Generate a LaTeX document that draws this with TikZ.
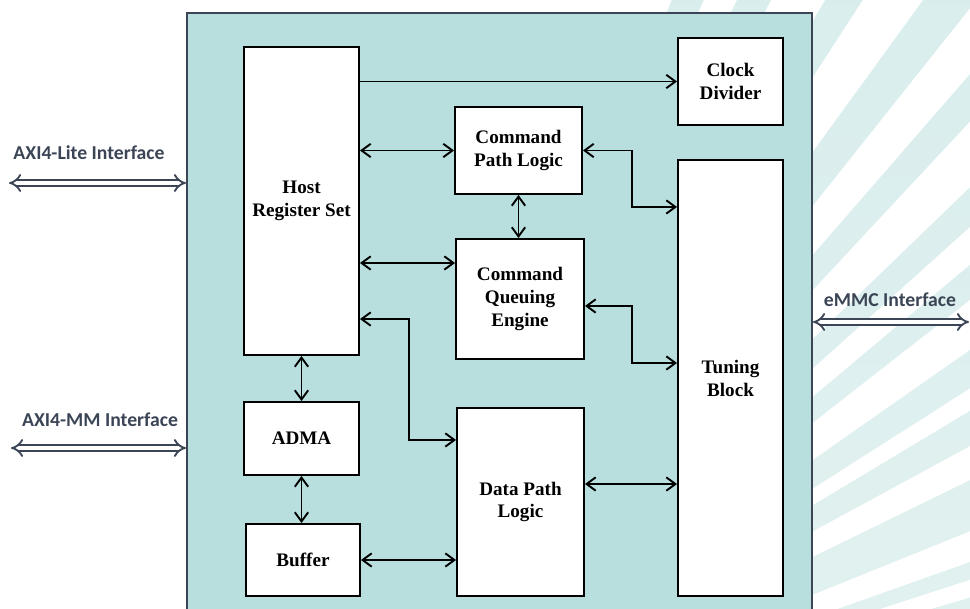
\documentclass[tikz,border=0pt]{standalone}
\usepackage{fontspec}
\setmainfont{Liberation Serif}
\newfontfamily\calfont{Carlito}
\usetikzlibrary{arrows.meta}
\definecolor{socfill}{HTML}{B8DEDD}
\definecolor{stripetop}{HTML}{D3EBEA}
\definecolor{stripebot}{HTML}{E3F2F1}
\definecolor{slate}{HTML}{3B4556}

\begin{document}
\begin{tikzpicture}[x=0.025cm,y=-0.025cm,>={Straight Barb[length=6.5pt,width=9.5pt]},line width=1.35pt,
  blk/.style={draw,fill=white,align=center,inner sep=0pt,font=\fontsize{13.6}{16.3}\selectfont\bfseries},
  iface/.style={draw=slate,double=white,double distance=3pt,line width=1.3pt,{Implies}-{Implies}},
  ilabel/.style={text=slate,font=\calfont\fontsize{14}{16}\selectfont\bfseries}]
\useasboundingbox (0,0) rectangle (970,609);

\begin{scope}
\clip (600,0) rectangle (970,609);
\shade[top color=stripetop,bottom color=stripebot] (357,779) -- +(-14:1300) -- +(-68:1300) -- cycle;
\foreach \a/\b in {16.5/18,19.5/22,26/28.5,31/32.5,35/38,40/42,44/47,49/51.5,54/57,59/62,64/66}
  \fill[white] (357,779) -- +(-\a:1300) -- +(-\b:1300) -- cycle;
\end{scope}

\node[draw=slate,fill=socfill,line width=1.3pt,minimum width=15.625cm,minimum height=15.175cm,inner sep=0pt] (soc) at (499.5,316.5) {};

\node[blk,minimum width=2.875cm,minimum height=7.7cm] (host) at (301.5,201) {Host\\Register Set};
\node[blk,minimum width=2.625cm,minimum height=2.175cm] (clk) at (730.5,81.5) {Clock\\Divider};
\node[blk,minimum width=3.175cm,minimum height=2.175cm] (cpl) at (518.5,150.5) {Command\\Path Logic};
\node[blk,minimum width=3.2cm,minimum height=3cm] (cqe) at (520,299) {Command\\Queuing\\Engine};
\node[blk,minimum width=2.625cm,minimum height=10.9cm] (tun) at (730.5,378) {Tuning\\Block};
\node[blk,minimum width=2.875cm,minimum height=1.825cm] (adma) at (301.5,438.5) {ADMA};
\node[blk,minimum width=2.85cm,minimum height=1.8cm] (buf) at (303,560) {Buffer};
\node[blk,minimum width=3.175cm,minimum height=4.7cm] (dpl) at (520.5,502) {Data Path\\Logic};

\draw[->] (clk.west -| host.east) -- (clk.west);
\draw[<->] (cpl.west -| host.east) -- (cpl.west);
\draw[<->] ([yshift=0.9cm]cqe.west -| host.east) -- ([yshift=0.9cm]cqe.west);
\draw[<->] ([yshift=-2.95cm]host.east) -- ++(1.225cm,0) |- ([yshift=1.55cm]dpl.west);
\draw[<->] (cpl.south) -- (cpl.south |- cqe.north);
\draw[<->] (cpl.east) -- ++(1.225cm,0) |- ([yshift=4.275cm]tun.west);
\draw[<->] ([yshift=-0.175cm]cqe.east) -- ++(1.175cm,0) |- ([yshift=0.375cm]tun.west);
\draw[<->] ([yshift=0.45cm]dpl.east) -- ([yshift=-2.65cm]tun.west);
\draw[<->] (host.south) -- (adma.north);
\draw[<->] (adma.south) -- (adma.south |- buf.north);
\draw[<->] (buf.east) -- (buf.east -| dpl.west);

\coordinate (lite) at (9,183);
\coordinate (mm) at (11,448);
\coordinate (emmc) at (969,322);
\draw[iface] (lite) -- (lite -| soc.west);
\draw[iface] (mm) -- (mm -| soc.west);
\draw[iface] (soc.east |- emmc) -- (emmc);
\node[ilabel] (litelbl) at (89,153) {AXI4-Lite Interface};
\node[ilabel] (mmlbl) at (100,420) {AXI4-MM Interface};
\node[ilabel] (emmclbl) at (890,300) {eMMC Interface};
\end{tikzpicture}
\end{document}
